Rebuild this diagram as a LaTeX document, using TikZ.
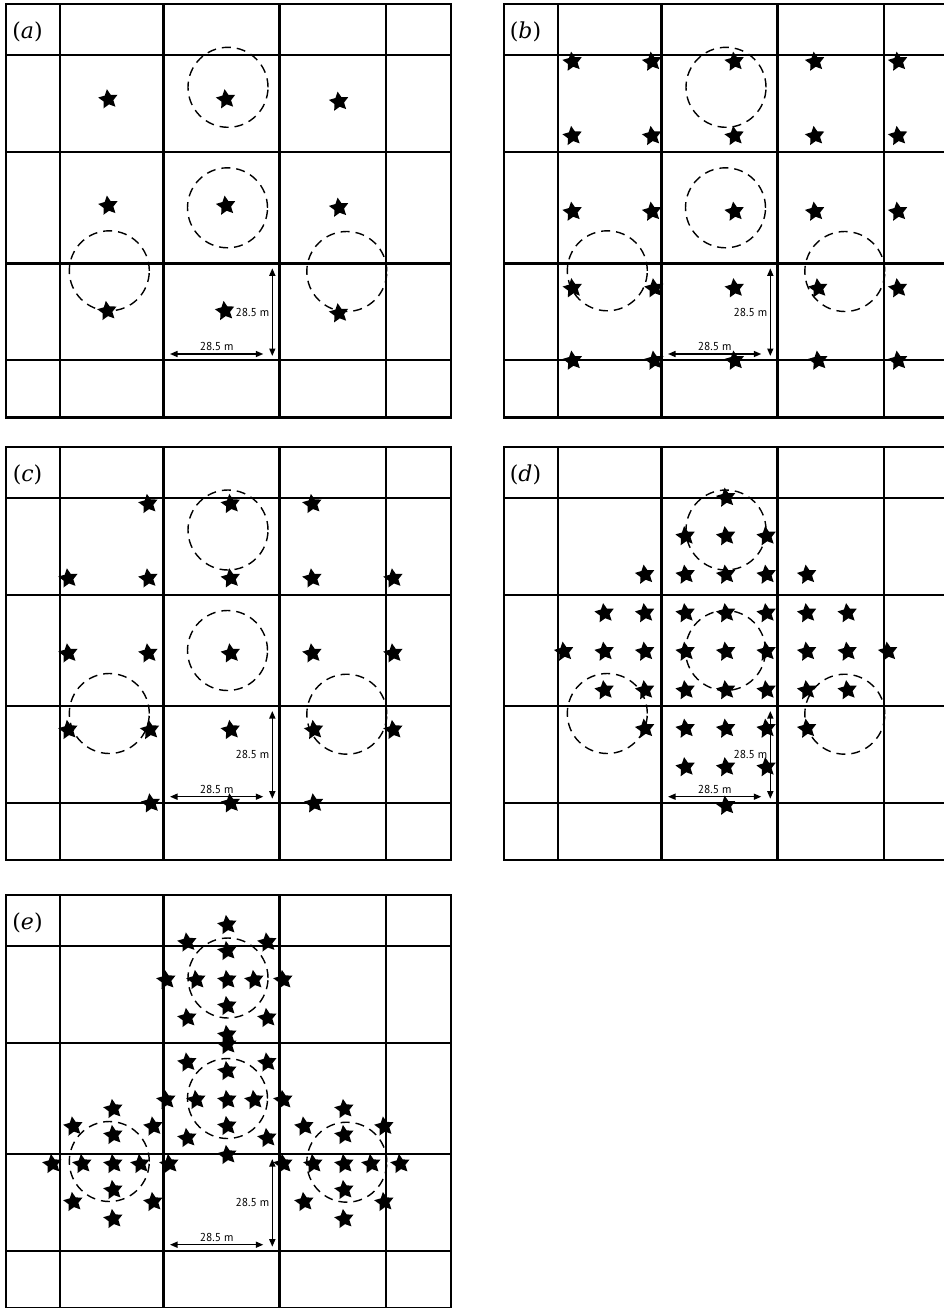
\documentclass[tikz,border=0pt]{standalone}
\usepackage{fontspec}
\newfontfamily\dimfont{PT Sans}
\newfontfamily\panelfont{DejaVu Serif}
\usetikzlibrary{arrows.meta,shapes.geometric}

\tikzset{
  gridline/.style={line width=2.1pt},
  zonecircle/.style={circle, draw, dash pattern=on 9pt off 6pt, line width=1.4pt, minimum size=80pt, inner sep=0pt},
  plant/.style={star, star points=5, star point ratio=2.0, fill=black, inner sep=0pt, minimum size=20.5pt, shape border rotate=8},
  dimarrow/.style={{Triangle[length=7.5pt,width=6pt]}-{Triangle[length=7.5pt,width=6pt]}, line width=1.5pt},
  dimlabel/.style={font=\dimfont\fontsize{11.5}{13}\selectfont, inner sep=2.3pt},
  panellabel/.style={font=\panelfont\fontsize{22}{26}\selectfont, inner sep=0pt}
}

% grid, zones, scale bars and letter of one panel
\newcommand{\panelgrid}[1]{%
  \draw[gridline] (0,0) rectangle (445,413.5);
  \foreach \gx in {54,157.5,273.5,380} \draw[gridline] (\gx,0) -- (\gx,413.5);
  \foreach \gy in {51,148.3,259.5,356.3} \draw[gridline] (0,\gy) -- (445,\gy);
  \foreach \cx/\cy [count=\k] in {222/83.3,221.5/203.8,103.3/266.8,340.8/267.5}
    \node[zonecircle] (#1-zone\k) at (\cx,\cy) {};
  \coordinate (#1-hl) at (164,350);
  \coordinate (#1-hr) at (257.3,350);
  \coordinate (#1-vt) at (266.3,264.3);
  \coordinate (#1-vb) at (266.3,352);
  \draw[dimarrow] (#1-hl) -- node[dimlabel, above] (#1-hlab) {28.5 m} (#1-hr);
  \draw[dimarrow] (#1-vt) -- node[dimlabel, left] (#1-vlab) {28.5 m} (#1-vb);
  \node[panellabel] (#1-label) at (21.5,28) {(\textit{#1})};
}

\begin{document}
\begin{tikzpicture}[x=1pt, y=-1pt]
\useasboundingbox (0,0) rectangle (944,1308);
\clip (0,0) rectangle (944,1308);

% (a)
\begin{scope}[shift={(6,4)}]
  \panelgrid{a}
  \foreach \sx/\sy [count=\i] in {102.3/95.3,220/95.3,333/97.7,102.3/201.7,220/201.7,333/203.7,101.3/307,219/307,333/309.3}
    \node[plant] (a-\i) at (\sx,\sy) {};
\end{scope}

% (b)
\begin{scope}[shift={(504,4)}]
  \panelgrid{b}
  \foreach \sy [count=\i] in {57.7,132,207.7}
    \foreach \sx [count=\j] in {68.5,148,230.5,311,394}
      \node[plant] (b-\i-\j) at (\sx,\sy) {};
  \foreach \sy [count=\i from 4] in {284.3,356.7}
    \foreach \sx [count=\j] in {68.7,150.3,230.7,314.2,394}
      \node[plant] (b-\i-\j) at (\sx,\sy) {};
\end{scope}

% (c)
\begin{scope}[shift={(6,446.7)}]
  \panelgrid{c}
  \foreach \sx [count=\j] in {142.3,224.7,306.3}
    \node[plant] (c-1-\j) at (\sx,57.3) {};
  \foreach \sy [count=\i from 2] in {131.7,206.7}
    \foreach \sx [count=\j] in {62.3,142.3,224.7,306.3,387.3}
      \node[plant] (c-\i-\j) at (\sx,\sy) {};
  \foreach \sx [count=\j] in {62.3,144,224.7,308,387.3}
    \node[plant] (c-4-\j) at (\sx,283.3) {};
  \foreach \sx [count=\j] in {144.7,224.7,308}
    \node[plant] (c-5-\j) at (\sx,356.7) {};
\end{scope}

% (d)
\begin{scope}[shift={(504,446.7)}]
  \panelgrid{d}
  \foreach \r [count=\i] in {-4,...,4}{
    \pgfmathtruncatemacro{\w}{4-abs(\r)}
    \foreach \c [count=\j] in {-\w,...,\w}
      \node[plant] (d-\i-\j) at ({222+40.5*\c},{205+38.5*\r}) {};
  }
\end{scope}

% (e)
\begin{scope}[shift={(6,894.7)}]
  \panelgrid{e}
  \foreach \cx/\cy [count=\m] in {221.3/85.3,221.3/205.3,107.3/269.3,338.3/269.3}
    \foreach \ox/\oy [count=\n] in {0/-55,-40/-37.5,40/-37.5,0/-29,-61/0,-31/0,0/0,27/0,56/0,0/26,-40/38,40/38,0/55}
      \node[plant] (e-\m-\n) at ({\cx+\ox},{\cy+\oy}) {};
\end{scope}
\end{tikzpicture}
\end{document}
